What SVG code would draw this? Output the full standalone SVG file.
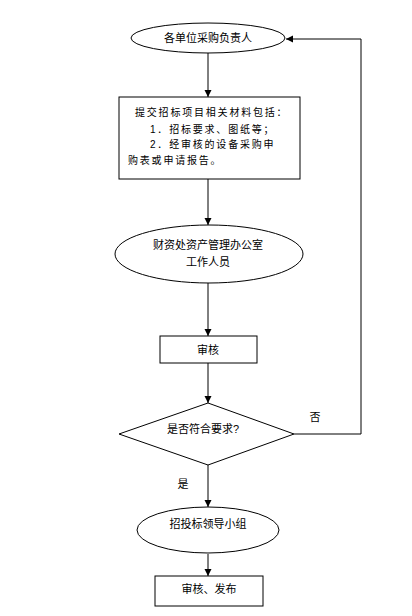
<svg xmlns="http://www.w3.org/2000/svg" width="412" height="616" viewBox="0 0 412 616">
<style>
.s{fill:#fff;stroke:#000;stroke-width:1}
.t{font-family:"Liberation Sans","Noto Sans CJK SC",sans-serif;font-size:11px;fill:#000;text-anchor:middle}
.b{font-family:"Liberation Sans","Noto Sans CJK SC",sans-serif;font-size:10px;fill:#000;letter-spacing:1.8px}
.c{fill:none;stroke:#000;stroke-width:1}
</style>
<defs>
<marker id="ah" markerWidth="8" markerHeight="8" refX="7" refY="4" orient="auto" markerUnits="userSpaceOnUse">
<path d="M0,0.5 L7,4 L0,7.5 Z" fill="#000"/>
</marker>
</defs>
<rect width="412" height="616" fill="#fff"/>
<g id="connectors">
<line class="c" x1="208" y1="53" x2="208" y2="97" marker-end="url(#ah)"/>
<line class="c" x1="208" y1="179" x2="208" y2="225" marker-end="url(#ah)"/>
<line class="c" x1="208" y1="283" x2="208" y2="336" marker-end="url(#ah)"/>
<line class="c" x1="208" y1="363" x2="208" y2="403" marker-end="url(#ah)"/>
<line class="c" x1="208" y1="465" x2="208" y2="507" marker-end="url(#ah)"/>
<line class="c" x1="208" y1="554" x2="208" y2="576" marker-end="url(#ah)"/>
<polyline class="c" points="294,434 361,434 361,39 286,39" marker-end="url(#ah)"/>
<text class="t" x="315" y="421">否</text>
<text class="t" x="183" y="488">是</text>
</g>
<g id="n1">
<ellipse class="s" cx="208" cy="38" rx="77" ry="15"/>
<text class="t" x="208" y="42">各单位采购负责人</text>
</g>
<g id="n2">
<rect class="s" x="119" y="97" width="181" height="82"/>
<text class="b" x="135" y="116">提交招标项目相关材料包括：</text>
<text class="b" x="150" y="133">1．招标要求、图纸等；</text>
<text class="b" x="150" y="148">2．经审核的设备采购申</text>
<text class="b" x="128" y="164">购表或申请报告。</text>
</g>
<g id="n3">
<ellipse class="s" cx="209" cy="254" rx="94" ry="29"/>
<text class="t" x="208" y="249">财资处资产管理办公室</text>
<text class="t" x="208" y="266">工作人员</text>
</g>
<g id="n4">
<rect class="s" x="160" y="336" width="97" height="27"/>
<text class="t" x="208" y="354">审核</text>
</g>
<g id="n5">
<polygon class="s" points="208,403 294,434 208,465 119,434"/>
<text class="t" x="203" y="433">是否符合要求?</text>
</g>
<g id="n6">
<ellipse class="s" cx="208" cy="530" rx="71" ry="23"/>
<text class="t" x="208" y="528">招投标领导小组</text>
</g>
<g id="n7">
<rect class="s" x="155" y="576" width="108" height="30"/>
<text class="t" x="209" y="593">审核、发布</text>
</g>
</svg>
